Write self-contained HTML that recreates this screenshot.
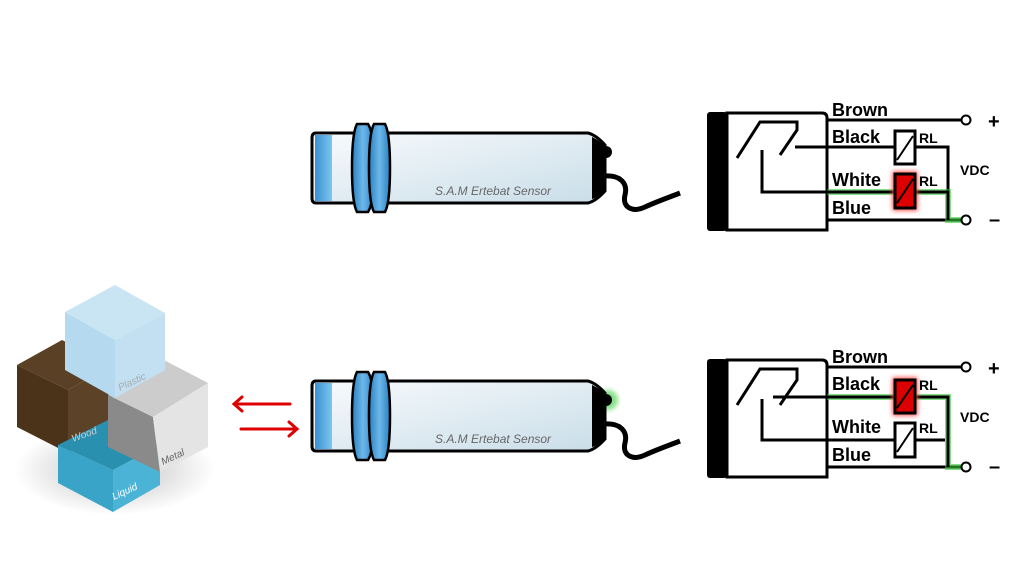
<!DOCTYPE html>
<html><head><meta charset="utf-8"><style>
html,body{margin:0;padding:0;background:#fff;}
svg{display:block;}
.t{font-family:"Liberation Sans",sans-serif;font-weight:bold;fill:#000;}
.s{font-family:"Liberation Sans",sans-serif;font-style:italic;fill:#666;font-size:12px;}
</style></head><body>
<svg width="1024" height="576" viewBox="0 0 1024 576" xmlns="http://www.w3.org/2000/svg">
<defs>
<linearGradient id="body" x1="0" y1="0" x2="1" y2="1">
<stop offset="0" stop-color="#f8fbfd"/><stop offset="1" stop-color="#c9dde8"/></linearGradient>
<linearGradient id="nut" x1="0" y1="0" x2="1" y2="0">
<stop offset="0" stop-color="#2a7fc0"/><stop offset="0.5" stop-color="#6cb8ea"/><stop offset="1" stop-color="#2a7fc0"/></linearGradient>
<linearGradient id="cap" x1="0" y1="0" x2="1" y2="0">
<stop offset="0" stop-color="#3a90d0"/><stop offset="1" stop-color="#7cc6f0"/></linearGradient>
<filter id="gl" x="-50%" y="-50%" width="200%" height="200%"><feGaussianBlur stdDeviation="2.5"/></filter>
<radialGradient id="sh"><stop offset="0" stop-color="#000" stop-opacity="0.25"/><stop offset="1" stop-color="#000" stop-opacity="0"/></radialGradient>
<g id="sensor">
<path d="M316,0 H588 Q596,2 605,12 V58 Q596,68 588,70 H316 Q312,70 312,65 V5 Q312,0 316,0 Z" fill="url(#body)" stroke="#000" stroke-width="3"/>
<rect x="315" y="2" width="17" height="66" fill="url(#cap)"/>
<path d="M357,-9 H368 Q374,0 374,35 Q374,70 368,79 H357 Q352,70 352,35 Q352,0 357,-9 Z" fill="url(#nut)" stroke="#000" stroke-width="2.5"/>
<path d="M374,-9 H385 Q390,0 390,35 Q390,70 385,79 H374 Q369,70 369,35 Q369,0 374,-9 Z" fill="url(#nut)" stroke="#000" stroke-width="2.5"/>
<path d="M592,4 Q600,8 604,12 V58 Q600,64 592,66 Z" fill="#000"/>
<circle cx="606" cy="19" r="6" fill="#000"/>
<path d="M605,43 C620,42 628,50 625,62 C622,74 632,80 645,74 C658,68 670,64 680,60" fill="none" stroke="#000" stroke-width="5"/>
<text class="s" x="435" y="62">S.A.M Ertebat  Sensor</text>
</g>
</defs>

<use href="#sensor" transform="translate(0,133)"/>
<circle cx="608" cy="400" r="10" fill="#3c3" opacity="0.6" filter="url(#gl)"/>
<use href="#sensor" transform="translate(0,381)"/>

<g stroke="#d00" stroke-width="3" fill="none" stroke-linecap="round">
<path d="M290,404 H234 M242,397 L234,404 L242,411"/>
<path d="M241,429 H297 M289,422 L297,429 L289,436"/>
</g>

<ellipse cx="115" cy="470" rx="100" ry="45" fill="url(#sh)"/>
<g>
<polygon points="17,365 62,340 112,365 68,390" fill="#5a4024"/>
<polygon points="17,365 68,390 68,453 17,427" fill="#4a3319"/>
<polygon points="68,390 112,365 112,430 68,453" fill="#5c4226"/>
<polygon points="58,445 108,420 160,445 113,470" fill="#2a90b0"/>
<polygon points="58,445 113,470 113,512 58,483" fill="#3aa4c8"/>
<polygon points="113,470 160,445 160,485 113,512" fill="#4bb4d6"/>
<polygon points="108,395 160,358 208,383 153,417" fill="#ccc"/>
<polygon points="108,395 153,417 160,472 108,447" fill="#8a8a8a"/>
<polygon points="153,417 208,383 208,447 160,472" fill="#e4e4e4"/>
<polygon points="65,312 115,285 165,313 115,340" fill="#c9e5f4"/>
<polygon points="65,312 115,340 115,398 65,370" fill="#b5d9ee"/>
<polygon points="115,340 165,313 165,370 115,398" fill="#c2e0f2"/>
<g font-family="Liberation Sans,sans-serif" font-style="italic" font-size="10">
<text x="120" y="391" fill="#aaa" transform="rotate(-25 120 391)">Plastic</text>
<text x="73" y="442" fill="#ccc" transform="rotate(-20 73 442)">Wood</text>
<text x="163" y="465" fill="#666" transform="rotate(-25 163 465)">Metal</text>
<text x="114" y="500" fill="#fff" transform="rotate(-25 114 500)">Liquid</text>
</g>
</g>

<g>
<path d="M727,113 H822 Q827,113 827,118 V230 H727 Z" fill="none" stroke="#000" stroke-width="3"/>
<rect x="707" y="112" width="20" height="119" rx="3" fill="#000"/>
<g stroke="#000" stroke-width="3" fill="none">
<path d="M737,158 L760,122 H797 V130 L780,155"/>
<path d="M795,147 H895 M915,147 H948 V192"/>
<path d="M762,150 V192 H827"/>
<path d="M827,120 H961"/>
<path d="M827,220 H961"/>
</g>
<path d="M827,192 H895 M915,192 H948 V220 H961" fill="none" stroke="#3c3" stroke-width="6" opacity="0.6"/>
<path d="M827,192 H895 M915,192 H948 V220" fill="none" stroke="#000" stroke-width="3"/>
<rect x="895" y="131" width="20" height="33" fill="#fff" stroke="#000" stroke-width="3"/>
<line x1="897" y1="160" x2="913" y2="136" stroke="#000" stroke-width="2"/>
<rect x="895" y="174" width="20" height="34" fill="#d00" stroke="#f44" stroke-width="5" filter="url(#gl)"/>
<rect x="895" y="174" width="20" height="34" fill="#d00" stroke="#000" stroke-width="3"/>
<line x1="897" y1="203" x2="913" y2="179" stroke="#000" stroke-width="2"/>
<circle cx="966" cy="120" r="4.5" fill="#fff" stroke="#000" stroke-width="2"/>
<circle cx="966" cy="220" r="4.5" fill="#fff" stroke="#000" stroke-width="2"/>
<text class="t" x="832" y="116" font-size="18">Brown</text>
<text class="t" x="832" y="143" font-size="18">Black</text>
<text class="t" x="832" y="186" font-size="18">White</text>
<text class="t" x="832" y="214" font-size="18">Blue</text>
<text class="t" x="919" y="143" font-size="14">RL</text>
<text class="t" x="919" y="186" font-size="14">RL</text>
<text class="t" x="960" y="175" font-size="14">VDC</text>
<text class="t" x="988" y="128" font-size="20">+</text>
<text class="t" x="989" y="226" font-size="20">–</text>
</g>

<g transform="translate(0,247)">
<path d="M727,113 H822 Q827,113 827,118 V230 H727 Z" fill="none" stroke="#000" stroke-width="3"/>
<rect x="707" y="112" width="20" height="119" rx="3" fill="#000"/>
<g stroke="#000" stroke-width="3" fill="none">
<path d="M737,158 L760,122 H797 V133 L780,158"/>
<path d="M773,150 H827"/>
<path d="M762,152 V193 H895 M915,193 H945"/>
<path d="M827,120 H961"/>
<path d="M827,220 H961"/>
</g>
<path d="M827,150 H895 M915,150 H948 V220 H961" fill="none" stroke="#3c3" stroke-width="6" opacity="0.6"/>
<path d="M827,150 H895 M915,150 H948 V220" fill="none" stroke="#000" stroke-width="3"/>
<rect x="895" y="133" width="20" height="33" fill="#d00" stroke="#f44" stroke-width="5" filter="url(#gl)"/>
<rect x="895" y="133" width="20" height="33" fill="#d00" stroke="#000" stroke-width="3"/>
<line x1="897" y1="161" x2="913" y2="138" stroke="#000" stroke-width="2"/>
<rect x="895" y="176" width="20" height="34" fill="#fff" stroke="#000" stroke-width="3"/>
<line x1="897" y1="205" x2="913" y2="181" stroke="#000" stroke-width="2"/>
<circle cx="966" cy="120" r="4.5" fill="#fff" stroke="#000" stroke-width="2"/>
<circle cx="966" cy="220" r="4.5" fill="#fff" stroke="#000" stroke-width="2"/>
<text class="t" x="832" y="116" font-size="18">Brown</text>
<text class="t" x="832" y="143" font-size="18">Black</text>
<text class="t" x="832" y="186" font-size="18">White</text>
<text class="t" x="832" y="214" font-size="18">Blue</text>
<text class="t" x="919" y="143" font-size="14">RL</text>
<text class="t" x="919" y="186" font-size="14">RL</text>
<text class="t" x="960" y="175" font-size="14">VDC</text>
<text class="t" x="988" y="128" font-size="20">+</text>
<text class="t" x="989" y="226" font-size="20">–</text>
</g>
</svg>
</body></html>
